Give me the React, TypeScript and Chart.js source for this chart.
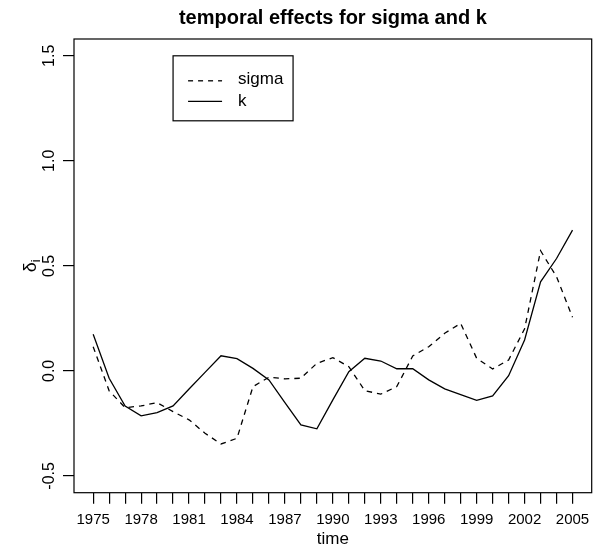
import React, { useEffect, useRef } from "react";
import { Chart, registerables } from "chart.js";

Chart.register(...registerables);

const years = [
  1975, 1976, 1977, 1978, 1979, 1980, 1981, 1982, 1983, 1984, 1985, 1986, 1987,
  1988, 1989, 1990, 1991, 1992, 1993, 1994, 1995, 1996, 1997, 1998, 1999, 2000,
  2001, 2002, 2003, 2004, 2005,
];
const sigmaValues = [
  0.115, -0.095, -0.175, -0.167, -0.151, -0.194, -0.233, -0.297, -0.348, -0.321,
  -0.075, -0.03, -0.038, -0.035, 0.036, 0.063, 0.02, -0.094, -0.111, -0.075,
  0.071, 0.115, 0.179, 0.226, 0.06, 0.009, 0.052, 0.2, 0.572, 0.448, 0.255,
];
const kValues = [
  0.174, -0.035, -0.167, -0.214, -0.199, -0.167, -0.086, -0.007, 0.072, 0.058,
  0.012, -0.043, -0.151, -0.257, -0.276, -0.138, -0.004, 0.06, 0.047, 0.01,
  0.01, -0.043, -0.086, -0.113, -0.14, -0.119, -0.023, 0.147, 0.424, 0.535,
  0.67,
];
const xLabelYears = [1975, 1978, 1981, 1984, 1987, 1990, 1993, 1996, 1999, 2002, 2005];
const yTickValues = [-0.5, 0, 0.5, 1, 1.5];
const yTickLabels = ["-0.5", "0.0", "0.5", "1.0", "1.5"];
const seriesNames = ["sigma", "k"];
const legendAnchor = { x: 1980, y: 1.5 };
const titleText = "temporal effects for sigma and k";
const yTitleMain = "δ";
const yTitleSub = "i";

const FONT = "'Liberation Sans', Arial, Helvetica, sans-serif";

const boxPlugin = {
  id: "rbox",
  afterDraw(chart: any) {
    const { ctx, chartArea } = chart;
    const ys = chart.scales.y;
    const xs = chart.scales.x;
    ctx.save();
    ctx.strokeStyle = "#000";
    ctx.lineWidth = 1.2;
    ctx.strokeRect(
      chartArea.left,
      chartArea.top,
      chartArea.right - chartArea.left,
      chartArea.bottom - chartArea.top
    );
    // main title centred over the plot region
    ctx.fillStyle = "#000";
    ctx.font = `bold 20px ${FONT}`;
    ctx.textAlign = "center";
    ctx.textBaseline = "middle";
    ctx.fillText(titleText, (chartArea.left + chartArea.right) / 2, 18.5);
    // y tick labels (rotated, R style)
    ctx.font = `16px ${FONT}`;
    ctx.textAlign = "center";
    ctx.textBaseline = "alphabetic";
    yTickValues.forEach((v, i) => {
      const py = ys.getPixelForValue(v);
      ctx.save();
      ctx.translate(53.5, py);
      ctx.rotate(-Math.PI / 2);
      ctx.fillText(yTickLabels[i], 0, 0);
      ctx.restore();
    });
    // y axis title: delta with subscript i
    const yc = (chartArea.top + chartArea.bottom) / 2;
    ctx.save();
    ctx.translate(36, yc);
    ctx.rotate(-Math.PI / 2);
    ctx.textAlign = "left";
    ctx.font = `18px ${FONT}`;
    const dw = ctx.measureText(yTitleMain).width;
    ctx.font = `13px ${FONT}`;
    const iw = ctx.measureText(yTitleSub).width;
    const start = -(dw + iw) / 2;
    ctx.font = `18px ${FONT}`;
    ctx.fillText(yTitleMain, start, 0);
    ctx.font = `13px ${FONT}`;
    ctx.fillText(yTitleSub, start + dw, 4);
    ctx.restore();
    // legend
    const lx = xs.getPixelForValue(legendAnchor.x);
    const ly = ys.getPixelForValue(legendAnchor.y);
    const w = 120;
    const h = 65;
    ctx.fillStyle = "#fff";
    ctx.fillRect(lx, ly, w, h);
    ctx.lineWidth = 1.2;
    ctx.strokeRect(lx, ly, w, h);
    ctx.lineWidth = 1.3;
    ctx.beginPath();
    ctx.setLineDash([5, 5]);
    ctx.moveTo(lx + 15, ly + 25);
    ctx.lineTo(lx + 49, ly + 25);
    ctx.stroke();
    ctx.setLineDash([]);
    ctx.beginPath();
    ctx.moveTo(lx + 15, ly + 45.5);
    ctx.lineTo(lx + 49, ly + 45.5);
    ctx.stroke();
    ctx.fillStyle = "#000";
    ctx.font = `17px ${FONT}`;
    ctx.textAlign = "left";
    ctx.textBaseline = "middle";
    ctx.fillText(seriesNames[0], lx + 65, ly + 24);
    ctx.fillText(seriesNames[1], lx + 65, ly + 46);
    ctx.restore();
  },
};

export default function App() {
  const ref = useRef<HTMLCanvasElement | null>(null);
  useEffect(() => {
    if (!ref.current) return;
    const chart = new Chart(ref.current, {
      type: "line",
      data: {
        datasets: [
          {
            label: seriesNames[0],
            data: years.map((y, i) => ({ x: y, y: sigmaValues[i] })),
            borderColor: "#000",
            borderWidth: 1.3,
            borderDash: [5.5, 5],
            pointRadius: 0,
            tension: 0,
            fill: false,
          },
          {
            label: seriesNames[1],
            data: years.map((y, i) => ({ x: y, y: kValues[i] })),
            borderColor: "#000",
            borderWidth: 1.3,
            pointRadius: 0,
            tension: 0,
            fill: false,
          },
        ],
      },
      options: {
        responsive: false,
        animation: false,
        devicePixelRatio: 1,
        layout: { padding: { left: 0, right: 6.3, top: 39, bottom: 0 } },
        plugins: {
          legend: { display: false },
          tooltip: { enabled: false },
          title: { display: false },
        },
        scales: {
          x: {
            type: "linear",
            min: 1973.8,
            max: 2006.2,
            afterBuildTicks: (s: any) => {
              s.ticks = years.map((v) => ({ value: v }));
            },
            afterFit: (s: any) => {
              s.height = 55.3;
            },
            ticks: {
              autoSkip: false,
              maxRotation: 0,
              minRotation: 0,
              padding: 7,
              color: "#000",
              font: { size: 15, family: FONT },
              callback: (v: any) => (xLabelYears.includes(Number(v)) ? String(v) : ""),
            },
            grid: {
              drawOnChartArea: false,
              drawTicks: true,
              tickLength: 11,
              color: "#000",
              lineWidth: 1.2,
            },
            border: { display: false },
            title: {
              display: true,
              text: "time",
              color: "#000",
              font: { size: 17, family: FONT, lineHeight: 1 },
              padding: 0,
            },
          },
          y: {
            type: "linear",
            min: -0.58,
            max: 1.58,
            afterBuildTicks: (s: any) => {
              s.ticks = yTickValues.map((v) => ({ value: v }));
            },
            afterFit: (s: any) => {
              s.width = 74;
            },
            ticks: { display: false },
            grid: {
              drawOnChartArea: false,
              drawTicks: true,
              tickLength: 11,
              color: "#000",
              lineWidth: 1.2,
            },
            border: { display: false },
            title: { display: false },
          },
        },
      },
      plugins: [boxPlugin],
    } as any);
    return () => chart.destroy();
  }, []);
  return (
    <div style={{ position: "fixed", left: 0, top: 0, width: 598, height: 548, background: "#fff" }}>
      <canvas ref={ref} width={598} height={548} style={{ display: "block" }} />
    </div>
  );
}
